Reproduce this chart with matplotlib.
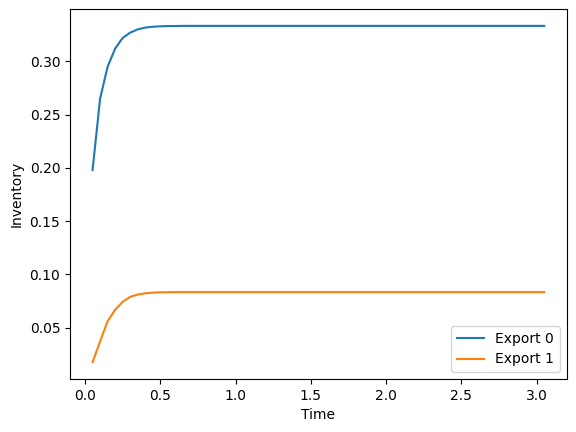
import matplotlib
matplotlib.use("Agg")
import matplotlib.pyplot as plt
import numpy as np

# time steps 0.05 .. 3.05
time = np.round(np.arange(1, 62) * 0.05, 2)

# values
export0 = [0.198, 0.265, 0.295, 0.312, 0.322, 0.327, 0.330, 0.3317,
           0.3325, 0.3329, 0.3331, 0.3332] + [0.3333] * 49
export1 = [0.0175, 0.037, 0.056, 0.0667, 0.0742, 0.0789, 0.0810, 0.0822,
           0.0828, 0.0831, 0.0832] + [0.0833] * 50

fig, ax = plt.subplots(figsize=(5.76, 4.32), dpi=100)
fig.subplots_adjust(left=0.1215, right=0.984, top=0.979, bottom=0.1227)
ax.plot(time, export0, label="Export 0")
ax.plot(time, export1, label="Export 1")
ax.set_xlabel("Time")
ax.set_ylabel("Inventory")
ax.legend(loc="lower right")
fig.savefig("out.png")
